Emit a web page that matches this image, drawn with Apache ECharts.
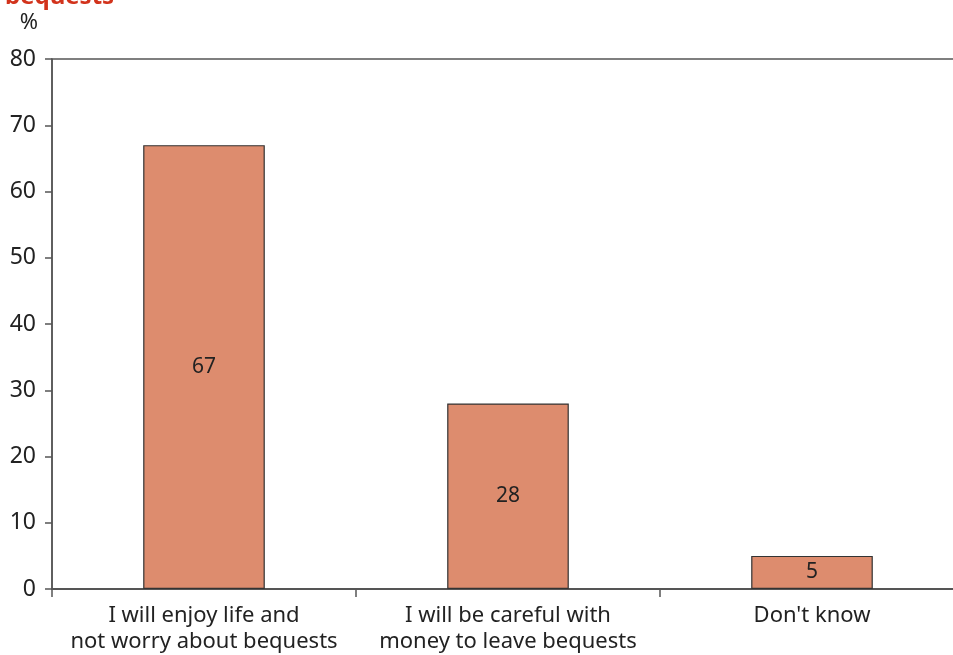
<!DOCTYPE html>
<html>
<head>
<meta charset="utf-8">
<script src="https://cdn.jsdelivr.net/npm/echarts@6/dist/echarts.min.js"></script>
<style>
  html, body { margin: 0; padding: 0; background: #fff; }
  #chart { width: 953px; height: 655px; }
</style>
</head>
<body>
<div id="chart"></div>
<script>
// chart data
const categories = ['I will enjoy life and\nnot worry about bequests', 'I will be careful with\nmoney to leave bequests', "Don't know"]
const values = [67, 28, 5]
const yTicks = { min: 0, max: 80, interval: 10 }

let chart = echarts.init(document.getElementById('chart'))
let option = {
  textStyle: { fontFamily: 'Noto Sans' },
  title: {
    text: 'bequests',
    left: 0,
    top: -20,
    textStyle: { color: '#d2331c', fontSize: 24, fontWeight: 'bold', fontFamily: 'Noto Sans' }
  },
  grid: {
    left: 52,
    top: 59,
    width: 912,
    height: 530,
    outerBoundsMode: 'none',
    containLabel: false,
    show: true,
    borderColor: '#555',
    borderWidth: 1.5
  },
  xAxis: {
    type: 'category',
    data: categories,
    axisLine: { lineStyle: { color: '#555', width: 2 } },
    axisTick: { show: true, interval: 0, length: 8, lineStyle: { color: '#555', width: 1.5 } },
    axisLabel: { interval: 0, hideOverlap: false, color: '#222', fontSize: 22, lineHeight: 26, margin: 14 }
  },
  yAxis: {
    type: 'value',
    min: yTicks.min,
    max: yTicks.max,
    interval: yTicks.interval,
    name: '%',
    nameLocation: 'end',
    nameGap: 25,
    nameTextStyle: { color: '#222', fontSize: 22, align: 'right', padding: [0, 14, 0, 0] },
    axisLine: { show: true, lineStyle: { color: '#555', width: 1.5 } },
    axisTick: { show: true, length: 7, lineStyle: { color: '#555', width: 1.5 } },
    axisLabel: { color: '#222', fontSize: 23, margin: 16 },
    splitLine: { show: false }
  },
  series: [
    {
      type: 'bar',
      data: values,
      barWidth: '40%',
      itemStyle: { color: '#dd8c6e', borderColor: '#333', borderWidth: 1.2 },
      label: { show: true, position: 'inside', color: '#222', fontSize: 21 }
    }
  ]
}
chart.setOption(option)
</script>
</body>
</html>
